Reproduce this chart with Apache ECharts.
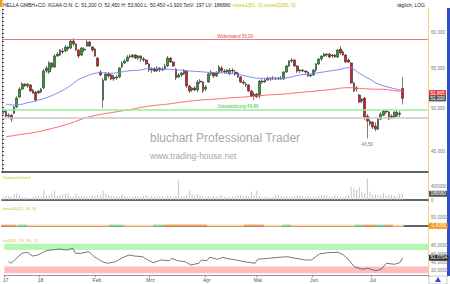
<!DOCTYPE html>
<html><head><meta charset="utf-8">
<script src="https://cdn.jsdelivr.net/npm/echarts@6/dist/echarts.min.js"></script>
<style>html,body{margin:0;padding:0;background:#fff}#c{width:450px;height:284px}</style>
</head><body><div id="c"></div>
<script>
// ---- DATA ----
// [open, close, low, high]
const candles = [
[49.53,49.77,49.29,49.89],[49.65,49.05,48.93,49.77],[49.05,49.17,48.82,49.41],[49.17,48.70,48.35,49.29],
[49.41,50.14,49.29,50.26],[50.14,51.24,50.01,51.49],[51.37,52.37,51.24,52.62],[52.37,53.01,52.24,53.26],
[53.01,52.75,52.62,53.14],[52.75,53.01,52.50,53.14],[52.88,52.12,51.99,53.01],[52.24,51.87,51.74,52.37],
[51.99,50.99,50.75,52.12],[51.87,52.12,51.74,52.24],[51.99,52.37,51.87,52.50],[52.50,54.70,52.37,54.96],
[54.70,55.10,54.44,55.37],[54.57,55.77,54.31,56.04],[55.77,55.23,54.96,55.90],[55.23,56.72,55.10,56.99],
[56.72,56.99,56.58,57.27],[56.85,57.54,56.72,57.68],[57.40,57.27,56.99,57.82],[57.40,57.96,57.27,58.24],
[57.96,57.68,57.40,58.10],[57.82,58.81,57.68,59.09],[58.81,58.38,58.10,59.23],[58.38,57.54,57.40,58.52],
[57.54,56.72,56.44,57.68],[56.85,57.82,56.72,57.96],[57.68,57.54,57.27,57.96],[58.10,58.67,57.96,59.09],
[58.67,58.10,57.96,58.81],[57.96,57.54,57.27,58.10],[57.68,56.72,56.58,57.82],[56.44,55.37,55.23,56.58],
[54.57,54.18,54.05,54.83],[50.99,53.52,50.01,53.78],[53.52,54.31,53.39,54.57],[54.31,54.05,53.78,54.57],
[54.18,53.65,53.52,54.44],[53.65,53.91,53.39,54.18],[53.91,53.78,53.52,54.18],[53.91,55.10,53.78,55.23],
[55.23,55.77,55.10,56.04],[55.77,56.04,55.64,56.31],[56.04,56.58,55.90,56.85],[56.58,56.72,56.44,56.99],
[56.58,56.85,56.44,56.99],[56.85,56.44,56.31,56.99],[56.44,56.72,56.17,56.85],[56.72,56.31,55.90,56.85],
[56.31,56.17,55.90,56.58],[56.17,55.64,55.50,56.31],[55.64,54.83,54.57,55.77],[54.83,54.96,54.44,55.23],
[54.96,54.70,54.57,55.23],[54.70,55.10,54.57,55.37],[55.10,54.83,54.57,55.23],[54.83,54.96,54.70,55.23],
[54.96,55.37,54.83,55.64],[55.37,56.44,55.23,56.72],[56.44,55.90,55.77,56.58],[55.90,55.37,55.23,56.04],
[54.96,53.78,53.52,55.10],[53.91,54.18,53.78,54.44],[54.18,54.44,53.91,54.57],[54.31,54.83,54.18,54.96],
[54.70,52.75,52.50,54.83],[52.75,52.12,51.87,52.88],[52.24,52.50,51.99,52.62],[52.50,52.24,52.12,52.75],
[52.24,53.26,51.99,53.52],[53.26,53.39,53.01,53.65],[53.26,52.12,51.87,53.39],[52.37,52.62,52.12,52.88],
[53.26,54.31,53.14,54.57],[54.31,54.57,54.05,54.83],[54.44,54.05,53.78,54.57],[54.05,54.44,53.91,54.70],
[54.44,55.23,54.31,55.50],[55.10,54.70,54.44,55.37],[54.70,54.57,54.31,54.96],[54.57,54.83,54.31,54.96],
[54.31,54.83,54.18,55.10],[54.83,54.70,54.44,55.10],[54.57,54.31,54.05,54.83],[54.44,53.91,53.78,54.57],
[53.91,53.26,53.14,54.05],[53.26,53.14,52.88,53.52],[53.01,52.88,52.62,53.26],[52.88,52.12,51.99,53.01],
[52.12,51.49,51.37,52.24],[51.49,51.74,50.99,51.99],[51.74,51.37,51.24,51.87],[51.49,53.39,51.24,53.52],
[53.39,53.26,53.01,53.65],[53.26,53.52,53.14,53.78],[53.52,53.78,53.39,53.91],[53.78,53.65,53.39,53.91],
[53.65,53.78,53.52,54.05],[53.78,53.65,53.52,53.91],[53.65,53.78,53.52,53.91],[53.78,53.65,53.52,54.05],
[53.65,54.57,53.52,54.70],[54.57,55.37,54.44,55.50],[55.37,56.04,55.23,56.17],[56.04,56.17,55.77,56.44],
[56.17,55.37,55.23,56.31],[55.37,54.70,54.44,55.50],[54.70,54.83,54.44,54.96],[54.83,54.70,54.57,54.96],
[54.70,54.57,54.31,54.83],[54.57,54.05,53.91,54.70],[54.05,54.18,53.91,54.31],[54.18,54.83,54.05,54.96],
[54.83,55.64,54.57,55.77],[55.64,56.31,55.50,56.44],[56.31,56.72,56.04,56.85],[56.72,56.99,56.58,57.13],
[56.99,56.85,56.58,57.13],[56.99,56.58,56.44,57.13],[56.72,56.85,56.44,56.99],[56.85,56.58,56.44,56.99],
[56.58,57.54,56.44,57.68],[57.68,57.13,56.85,58.10],[57.27,56.85,56.72,57.54],[56.85,55.90,55.77,56.99],
[56.17,55.90,55.77,56.44],[55.77,53.14,53.01,55.90],[53.14,52.12,51.99,53.26],[52.37,52.50,51.99,52.75],
[51.62,50.75,50.62,51.74],[50.87,51.12,50.62,51.24],[51.24,48.94,48.58,51.37],[49.06,48.47,46.50,49.30],
[48.47,48.12,47.89,48.70],[48.35,47.77,47.54,48.47],[47.89,47.54,47.31,48.35],[47.54,48.70,47.42,48.82],
[48.70,49.29,48.58,49.53],[49.17,49.65,49.06,49.89],[49.65,49.53,49.29,49.89],[49.53,48.70,48.58,49.65],
[48.82,49.06,48.70,49.29],[48.94,49.53,48.82,49.65],[49.06,49.53,48.94,49.77],[49.41,49.28,48.94,49.65],
[52.45,51.20,50.45,53.90]
];
const volumes = [
80000,120000,110000,90000,180000,200000,150000,90000,80000,70000,70000,90000,100000,120000,100000,300000,
120000,150000,200000,280000,120000,150000,180000,180000,200000,100000,100000,180000,120000,120000,120000,100000,
80000,150000,120000,150000,150000,280000,200000,150000,120000,120000,120000,100000,180000,120000,80000,80000,
100000,120000,100000,100000,120000,150000,100000,120000,100000,120000,100000,120000,100000,150000,120000,100000,
120000,580000,100000,100000,150000,280000,180000,150000,180000,150000,120000,100000,120000,100000,120000,100000,
120000,150000,100000,80000,80000,100000,120000,150000,150000,120000,150000,120000,250000,150000,280000,120000,
100000,100000,80000,80000,100000,150000,150000,120000,100000,120000,80000,100000,120000,150000,120000,120000,
100000,150000,100000,100000,80000,120000,150000,150000,150000,100000,100000,150000,120000,100000,80000,120000,
150000,400000,350000,300000,380000,250000,200000,650000,250000,150000,180000,150000,150000,200000,120000,150000,
150000,120000,100000,180000,186680
];
// moving averages read at sample candles: [candleIndex, value]
const ma50Pts = [[1,50.50],[4,50.38],[9,50.66],[14,51.08],[17,51.41],[21,52.03],[24,52.59],[26,53.10],[28,53.61],
[31,54.05],[33,54.31],[36,54.48],[40,54.40],[43,54.53],[47,54.74],[51,54.83],[54,55.06],[58,54.96],[62,54.92],
[65,54.83],[69,54.70],[73,54.61],[76,54.53],[80,54.48],[84,54.40],[88,54.18],[91,53.96],[95,53.74],[99,53.74],
[102,53.74],[106,53.87],[110,54.18],[113,54.27],[117,54.48],[121,54.70],[125,54.92],[128,55.14],[130,54.92],
[132,54.40],[136,53.61],[139,53.01],[143,52.59],[147,52.24],[148,52.12]];
const ma200Pts = [[1,46.66],[5,46.86],[11,47.13],[17,47.54],[24,48.12],[28,48.58],[32,48.97],[36,49.26],[42,49.57],
[48,49.90],[54,50.26],[61,50.50],[67,50.78],[73,50.99],[79,51.12],[85,51.28],[91,51.41],[98,51.62],[104,51.74],
[109,51.91],[116,52.12],[122,52.33],[128,52.54],[132,52.46],[136,52.37],[141,52.33],[147,52.12],[148,52.12]];
const rsiPts = [[1,41.6],[2,37.8],[6,61.8],[8,64.2],[10,55.3],[12,57.7],[15,68.0],[17,69.7],[20,72.1],[23,69.7],
[25,73.8],[26,61.8],[28,61.8],[31,65.6],[33,53.6],[36,41.6],[38,37.8],[41,41.6],[43,49.8],[46,57.7],[48,55.3],
[51,53.6],[53,45.7],[55,39.2],[58,45.7],[61,44.0],[62,49.8],[64,44.0],[67,41.6],[69,33.7],[72,37.8],[73,45.7],
[75,44.0],[76,52.2],[79,47.4],[81,52.2],[82,49.8],[86,45.7],[89,41.6],[93,37.8],[94,47.4],[98,49.8],[102,52.2],
[105,53.6],[108,49.8],[112,45.7],[114,45.7],[117,60.1],[120,63.2],[124,64.2],[126,57.7],[128,45.7],[130,29.6],
[133,23.4],[135,25.8],[138,20.0],[140,23.4],[142,37.8],[145,35.4],[147,39.2],[148,51.07]];
// macd state strip: [firstCandle, lastCandle, state]  state 0=orange 1=light 2=green
const macdSegs = [[0,4,0],[5,5,1],[6,8,2],[9,39,1],[40,44,2],[45,55,1],[56,59,2],[60,75,0],[76,89,1],[90,96,0],
[97,103,1],[104,106,2],[107,130,1],[131,133,2],[134,138,0],[139,141,2],[142,144,0],[145,148,1]];
const monthTicks = [0,13,34,54,75,94,115,137];
const monthLabels = ['17','18','Feb','Mrz','Apr','Mai','Jun','Jul'];
const priceTicks = [45,50,55,60];
const priceTickLabels = ['45,000','50,000','55,000','60,000'];
const rsiTicks = [80,60,40,20];
const rsiTickLabels = ['80,0000','60,0000','40,0000','20,0000'];
const resistance = 59.00, support = 49.86, grayLevel = 48.82, lowMark = 46.50;
const lastClose = 51.20, lastMa200 = 51.86, lastVol = 186680, lastMacd = -1.4355, lastRsi = 51.0704;

// ---- CHART ----
const FONT = 'Liberation Sans, Arial, sans-serif';
const nSlots = 158;
const cats = Array.from({length:nSlots}, (_, i) => 'd' + i);
const macdColors = ['#f6a35e', '#ffdca8', '#86dea6'];
const tickLbl = (txt) => ({show:true, position:'end', distance:3, formatter:txt, fontSize:4.6, color:'#777', fontFamily:FONT});
const hidden = {color:'rgba(0,0,0,0)', width:0};
const boxLbl = (txt, bg) => ({show:true, position:'end', distance:1, formatter:txt, fontSize:4.6, color:'#fff',
  backgroundColor:bg, padding:[0.5,1.5], fontFamily:FONT});

const grids = [
  {left:2, right:22, top:9, height:163},
  {left:2, right:22, top:174, height:29},
  {left:2, right:22, top:205, height:29},
  {left:2, right:22, top:236, height:39}
];
function xAx(g, showLabels){
  return {type:'category', gridIndex:g, data:cats, boundaryGap:true,
    axisLine:{show:true, lineStyle:{color:g===3?'#999':'#333', width:g===3?1:1.6}},
    axisTick:{show:showLabels, length:2, interval:(i)=>monthTicks.includes(i), lineStyle:{color:'#888'}},
    axisLabel:{show:showLabels, interval:(i)=>monthTicks.includes(i), margin:2, fontSize:5, color:'#555', fontFamily:FONT,
      formatter:(v,i)=>monthLabels[monthTicks.indexOf(i)] || ''},
    splitLine:{show:false}};
}
const yRight = (g, extra) => Object.assign({gridIndex:g, position:'right', axisLine:{show:true, lineStyle:{color:'#f2d27a'}},
  axisTick:{show:false}, axisLabel:{show:false}, splitLine:{show:false}}, extra);

const option = {
  animation:false,
  backgroundColor:'#fff',
  textStyle:{fontFamily:FONT},
  grid:grids,
  xAxis:[xAx(0,false), xAx(1,false), xAx(2,false), xAx(3,true)],
  yAxis:[
    yRight(0, {type:'log', min:42.86, max:63.54}),
    yRight(1, {type:'value', min:-90000, max:782000}),
    yRight(2, {type:'value', min:-55, max:135}),
    yRight(3, {type:'value', min:9.7, max:103.3}),
    {gridIndex:0, type:'value', position:'left', min:0, max:40, interval:1,
      axisLine:{show:true, lineStyle:{color:'#999'}}, axisTick:{show:true, inside:true, length:2, lineStyle:{color:'#444'}},
      axisLabel:{show:false}, splitLine:{show:false}}
  ],
  series:[
    {type:'candlestick', xAxisIndex:0, yAxisIndex:0, data:candles, barWidth:2.2,
      itemStyle:{color:'#22a822', color0:'#e01818', borderColor:'#2b2b2b', borderColor0:'#2b2b2b', borderWidth:0.6},
      markLine:{silent:true, symbol:['none','none'], animation:false, data:[
        ...priceTicks.map((v,k)=>({yAxis:v, lineStyle:hidden, label:tickLbl(priceTickLabels[k])})),
        {yAxis:resistance, lineStyle:{color:'#f07878', width:1, type:'solid'}, label:{show:false}},
        {yAxis:support, lineStyle:{color:'#98ee98', width:1.6, type:'solid'}, label:{show:false}},
        {yAxis:grayLevel, lineStyle:{color:'#c8c8c8', width:1.6, type:'solid'}, label:{show:false}},
        {yAxis:lastMa200, lineStyle:hidden, label:boxLbl('51,865', '#e8383d')},
        {yAxis:lastClose, lineStyle:hidden, label:boxLbl('51,200', '#555')}
      ]},
      markPoint:{silent:true, symbol:'rect', symbolSize:0, animation:false, data:[
        {coord:['d86', resistance], label:{show:true, position:'top', distance:1, formatter:'Widerstand 59,00', fontSize:4.6, color:'#e04848'}},
        {coord:['d87', support], label:{show:true, position:'top', distance:0, formatter:'Unterstützung 49,86', fontSize:4.6, color:'#3cbf3c'}},
        {coord:['d135', lowMark], label:{show:true, position:'bottom', distance:4, formatter:'46,50', fontSize:4.6, color:'#777'}}
      ]}
    },
    {type:'line', xAxisIndex:0, yAxisIndex:0, data:ma50Pts, smooth:true, symbol:'none',
      lineStyle:{color:'#8484ff', width:1}},
    {type:'line', xAxisIndex:0, yAxisIndex:0, data:ma200Pts, smooth:true, symbol:'none',
      lineStyle:{color:'#ff6a6a', width:1}},
    {type:'bar', xAxisIndex:1, yAxisIndex:1, data:volumes, barWidth:1, itemStyle:{color:'#c4c4c4'},
      markLine:{silent:true, symbol:['none','none'], animation:false, data:[
        {yAxis:400000, lineStyle:hidden, label:tickLbl('400000')},
        {yAxis:0, lineStyle:hidden, label:tickLbl('0')},
        {yAxis:lastVol, lineStyle:hidden, label:boxLbl('186680', '#555')}
      ]}},
    {type:'custom', xAxisIndex:2, yAxisIndex:2, data:macdSegs, encode:{x:[0,1], y:2},
      renderItem:(params, api)=>{
        const s = api.value(0), e = api.value(1), st = api.value(2);
        const p0 = api.coord([s, 0]), p1 = api.coord([e, 0]);
        const w = api.size([1, 0])[0];
        return {type:'rect', shape:{x:p0[0]-w/2, y:p0[1]-1, width:p1[0]-p0[0]+w, height:2},
          style:{fill:macdColors[st]}};
      },
      markLine:{silent:true, symbol:['none','none'], animation:false, data:[
        {yAxis:50, lineStyle:hidden, label:tickLbl('50,0000')},
        {yAxis:lastMacd, lineStyle:hidden, label:boxLbl('-1,4355', '#f39a1e')}
      ]}},
    {type:'line', xAxisIndex:3, yAxisIndex:3, data:rsiPts, symbol:'none', lineStyle:{color:'#555', width:0.8},
      markArea:{silent:true, data:[
        [{yAxis:70, itemStyle:{color:'#b4f7b4'}}, {yAxis:85}],
        [{yAxis:14, itemStyle:{color:'#ffbcbc'}}, {yAxis:30}]
      ]},
      markLine:{silent:true, symbol:['none','none'], animation:false, data:[
        ...rsiTicks.map((v,k)=>({yAxis:v, lineStyle:hidden, label:tickLbl(rsiTickLabels[k])})),
        {yAxis:lastRsi, lineStyle:hidden, label:boxLbl('51,0704', '#333')}
      ]}}
  ],
  graphic:[
    {type:'rect', shape:{x:0, y:0, width:2.5, height:7}, style:{fill:'#f39c12'}, silent:true},
    {type:'rect', shape:{x:447, y:8, width:3, height:268}, style:{fill:'#2f4fc4'}, silent:true},
    {type:'rect', shape:{x:429, y:276, width:18, height:8}, style:{fill:'#fff', stroke:'#aaa', lineWidth:0.6}, silent:true},
    {type:'polygon', shape:{points:[[435,282],[438,277],[441,282]]}, style:{fill:'#2f4fc4'}, silent:true},
    {type:'text', x:3, y:2.5, silent:true, style:{
      text:'HELLA GMBH+CO. KGAA O.N. C: 51,200 O: 52,450 H: 53,900 L: 50,450 +1,920 TotV: 197 LV: 186680 {y|move1(50, 0) move2(200, 0)}',
      fontSize:5.0, fill:'#222', fontFamily:FONT, rich:{y:{fill:'#c9c400', fontSize:5.0, fontFamily:FONT}}}},
    {type:'text', x:425, y:2.5, silent:true, style:{text:'täglich, LOG', fontSize:5.0, fill:'#222', align:'right', fontFamily:FONT}},
    {type:'text', x:150, y:132, silent:true, style:{text:'bluchart Professional Trader', fontSize:12, fill:'#a8a8a8', fontFamily:FONT}},
    {type:'text', x:150, y:151, silent:true, style:{text:'www.trading-house.net', fontSize:8.5, fill:'#a8a8a8', fontFamily:FONT}},
    {type:'text', x:3, y:175, silent:true, style:{text:'Volume/Units1', fontSize:4.4, fill:'#c9c400', fontFamily:FONT}},
    {type:'text', x:3, y:206, silent:true, style:{text:'macd1(12, 26, 9)', fontSize:4.4, fill:'#c9c400', fontFamily:FONT}},
    {type:'text', x:3, y:238, silent:true, style:{text:'rsi1(14, 70, 30, 1)', fontSize:4.4, fill:'#c9c400', fontFamily:FONT}}
  ]
};
const chart = echarts.init(document.getElementById('c'), null, {renderer:'svg', width:450, height:284});
chart.setOption(option);
</script>
</body></html>
